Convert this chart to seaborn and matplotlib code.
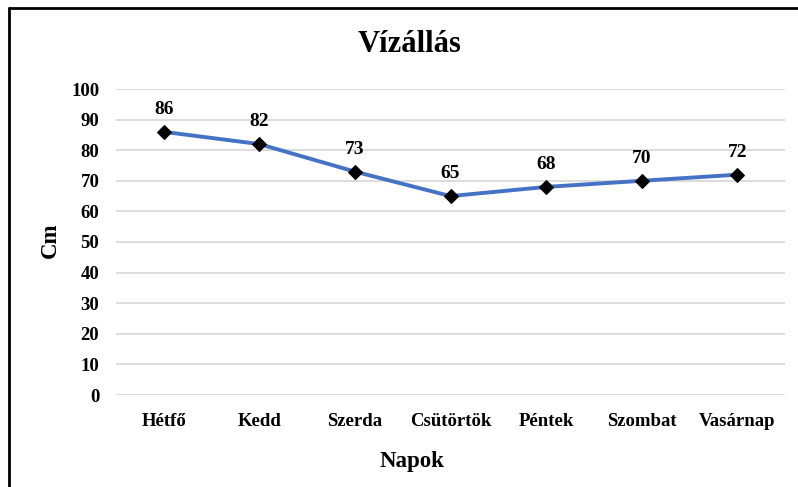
import matplotlib
matplotlib.use("Agg")
import matplotlib.pyplot as plt
import seaborn as sns
import pandas as pd
from matplotlib.lines import Line2D

days = ["Hétfő", "Kedd", "Szerda", "Csütörtök", "Péntek", "Szombat", "Vasárnap"]
levels = [86, 82, 73, 65, 68, 70, 72]
yticks = list(range(0, 101, 10))

sns.set_theme(style="white")
plt.rcParams['font.family'] = ['Liberation Serif', 'DejaVu Serif']
plt.rcParams['font.weight'] = 'bold'
plt.rcParams['text.color'] = 'black'
plt.rcParams['axes.labelcolor'] = 'black'
plt.rcParams['xtick.color'] = 'black'
plt.rcParams['ytick.color'] = 'black'

df = pd.DataFrame({"Napok": days, "Cm": levels})

fig = plt.figure(figsize=(7.98, 4.87), dpi=100)
ax = fig.add_axes([116/798, 1-395/487, (785-116)/798, (395-89)/487])

sns.lineplot(data=df, x="Napok", y="Cm", sort=False, ax=ax, color="#4472C4",
             linewidth=2.8, marker="D", markersize=7, markerfacecolor="black",
             markeredgecolor="black", zorder=3)

ax.set_xlim(-0.5, len(days) - 0.5)
ax.set_ylim(0, 100)
ax.set_yticks(yticks)
ax.set_yticklabels([str(v) for v in yticks], fontsize=13.5, fontweight='bold')
ax.set_xticks(range(len(days)))
ax.set_xticklabels(days, fontsize=13.5, fontweight='bold')
ax.tick_params(axis='both', length=0)
ax.tick_params(axis='y', pad=12)
ax.tick_params(axis='x', pad=13)
ax.yaxis.grid(True, color="#D9D9D9", linewidth=1.3)
ax.set_axisbelow(True)
for s in ax.spines.values():
    s.set_visible(False)

for i, v in enumerate(levels):
    ax.annotate(str(v), (i, v), xytext=(0, 10), textcoords="offset points",
                ha="center", va="bottom", fontsize=14, fontweight='bold')

ax.set_xlabel("Napok", fontsize=16.5, fontweight='bold')
ax.set_ylabel("Cm", fontsize=16.5, fontweight='bold')
ax.xaxis.set_label_coords((412-116)/(785-116), -(462-395)/(395-89))
ax.yaxis.set_label_coords(-(116-50)/(785-116), (395-240)/(395-89))
ax.xaxis.label.set_va("center")
ax.yaxis.label.set_va("center")
fig.suptitle("Vízállás", x=410/798, y=1-45/487, va="center", fontsize=22, fontweight='bold')

# partial frame (left and top edges)
fig.add_artist(Line2D([9/798, 9/798], [0, 1-7.5/487], transform=fig.transFigure, color="black", linewidth=2))
fig.add_artist(Line2D([9/798, 1], [1-7.5/487, 1-7.5/487], transform=fig.transFigure, color="black", linewidth=2))

fig.savefig("out.png", dpi=100)
